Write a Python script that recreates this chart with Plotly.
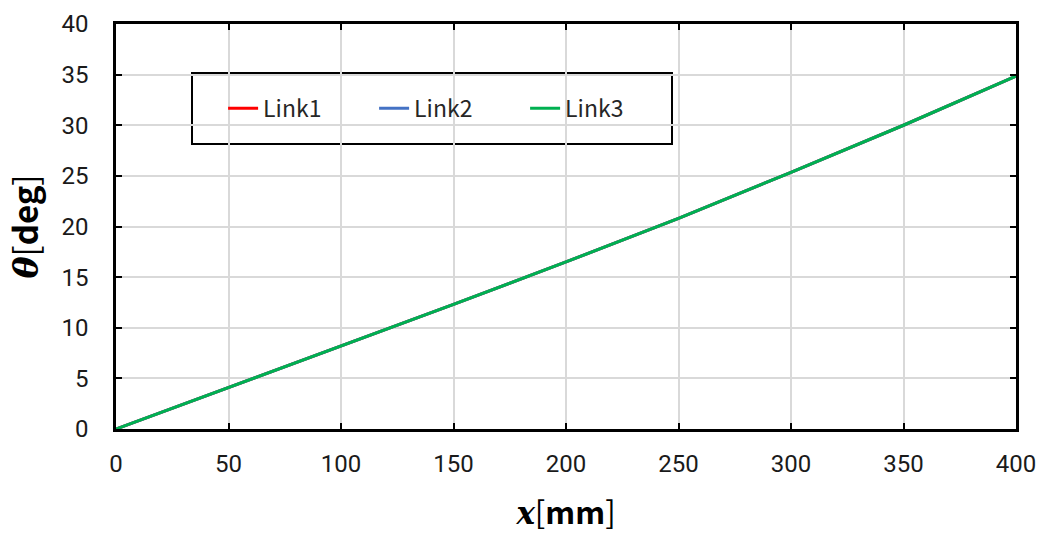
import plotly.graph_objects as go

# Displacement x [mm] and link angle theta [deg]
x_mm = [0, 50, 100, 150, 200, 250, 300, 350, 400]
theta_link1 = [0.0, 4.1, 8.2, 12.3, 16.5, 20.8, 25.35, 30.0, 34.85]
theta_link2 = [0.0, 4.1, 8.2, 12.3, 16.5, 20.8, 25.35, 30.0, 34.85]
theta_link3 = [0.0, 4.1, 8.2, 12.3, 16.5, 20.8, 25.35, 30.0, 34.85]

series = [
    ("Link1", theta_link1, "#FF0000"),
    ("Link2", theta_link2, "#4472C4"),
    ("Link3", theta_link3, "#00B050"),
]

fig = go.Figure()
for name, ys, color in series:
    fig.add_trace(go.Scatter(
        x=x_mm, y=ys, name=name, mode="lines",
        line=dict(color=color, width=3),
    ))

tick_font = dict(family="Roboto, Arial, sans-serif", size=24, color="#1a1a1a")
axis_common = dict(
    showline=True, linecolor="black", linewidth=2.5, mirror="ticks",
    ticks="inside", ticklen=6, tickwidth=2, tickcolor="black",
    showgrid=True, gridcolor="#D9D9D9", gridwidth=1.5,
    zeroline=False, tickfont=tick_font, automargin=False,
)

fig.update_layout(
    width=1040, height=533,
    margin=dict(l=116, r=24, t=24, b=104),
    paper_bgcolor="white", plot_bgcolor="white",
    showlegend=True,
    legend=dict(
        orientation="h",
        x=0.119, y=0.845, xanchor="left", yanchor="top",
        bgcolor="rgba(0,0,0,0)", borderwidth=0,
        font=dict(family="Noto Sans CJK JP, Noto Sans, sans-serif", size=23, color="#262626"),
        entrywidth=106, entrywidthmode="pixels",
    ),
    shapes=[dict(
        type="rect", xref="paper", yref="paper",
        x0=(192 - 116) / 900, x1=(672 - 116) / 900,
        y0=(429 - 144) / 405, y1=(429 - 73) / 405,
        line=dict(color="black", width=2), fillcolor="white", layer="below",
    )],
)

x_title = ('<span style="font-family:DejaVu Serif"><b><i>x</i></b></span>'
           '[<b>mm</b>]')
y_title = ('<span style="font-family:DejaVu Serif"><b><i>θ</i></b></span>'
           '[<b>deg</b>]')

fig.update_xaxes(
    range=[0, 400], dtick=50, ticklabelstandoff=11,
    title=dict(text=x_title,
               font=dict(family="Noto Sans CJK JP, Noto Sans, sans-serif", size=31, color="black"),
               standoff=26),
    **axis_common,
)
fig.update_yaxes(
    range=[0, 40], dtick=5, ticklabelstandoff=20,
    title=dict(text=y_title,
               font=dict(family="Noto Sans CJK JP, Noto Sans, sans-serif", size=33, color="black"),
               standoff=14),
    **axis_common,
)

fig.write_html("out.html")
